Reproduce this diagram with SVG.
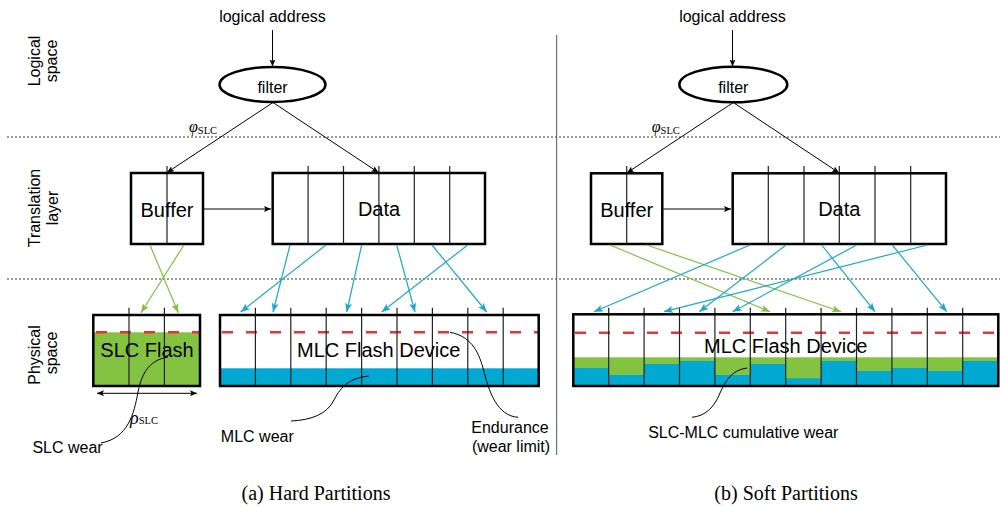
<svg xmlns="http://www.w3.org/2000/svg" width="1000" height="508" viewBox="0 0 1000 508">
<defs>
<style>
.sans{font-family:"Liberation Sans",Arial,sans-serif;fill:#000}
.serif{font-family:"Liberation Serif","Times New Roman",serif;fill:#000}
.box{fill:none;stroke:#000;stroke-width:2.5}
.div{stroke:#222;stroke-width:1.2}
.dot{stroke:#333;stroke-width:1.2;stroke-dasharray:2,2;fill:none}
.red{stroke:#F03030;stroke-width:2.5;stroke-dasharray:11,13;fill:none}
.blk{stroke:#000;stroke-width:1;fill:none}
.teal{stroke:#1AA9CB;stroke-width:1.2;fill:none;marker-end:url(#ta)}
.grn{stroke:#80C342;stroke-width:1.2;fill:none;marker-end:url(#ga)}
.gfill{fill:#84C242}
.bfill{fill:#00A8D2}
</style>
<marker id="ba" markerUnits="userSpaceOnUse" markerWidth="10" markerHeight="8" refX="7" refY="3" orient="auto"><path d="M0,0 L7,3 L0,6 L1.5,3 z" fill="#000"/></marker>
<marker id="bs" markerUnits="userSpaceOnUse" markerWidth="10" markerHeight="8" refX="0" refY="3" orient="auto"><path d="M7,0 L0,3 L7,6 L5.5,3 z" fill="#000"/></marker>
<marker id="ta" markerUnits="userSpaceOnUse" markerWidth="12" markerHeight="10" refX="9" refY="3.5" orient="auto"><path d="M0,0 L9,3.5 L0,7 L2,3.5 z" fill="#1AA9CB"/></marker>
<marker id="ga" markerUnits="userSpaceOnUse" markerWidth="12" markerHeight="10" refX="9" refY="3.5" orient="auto"><path d="M0,0 L9,3.5 L0,7 L2,3.5 z" fill="#80C342"/></marker>
</defs>
<rect width="1000" height="508" fill="#fff"/>

<g id="layer-labels" class="sans" font-size="16" text-anchor="middle">
<text transform="translate(40,61) rotate(-90)">Logical</text>
<text transform="translate(57,61) rotate(-90)">space</text>
<text transform="translate(40,208) rotate(-90)">Translation</text>
<text transform="translate(58,208) rotate(-90)">layer</text>
<text transform="translate(40,355) rotate(-90)">Physical</text>
<text transform="translate(57,353) rotate(-90)">space</text>
</g>

<g id="separators">
<line class="dot" x1="7" y1="137" x2="1000" y2="137"/>
<line class="dot" x1="7" y1="279" x2="1000" y2="279"/>
<line x1="556.7" y1="35" x2="556.7" y2="455" stroke="#555" stroke-width="1"/>
</g>

<!-- ===== Left (a) ===== -->
<g id="a-logical-address"><text class="sans" font-size="16" x="272.5" y="21.5" text-anchor="middle">logical address</text></g>
<g id="a-filter">
<ellipse cx="272.5" cy="84.5" rx="53" ry="17.5" fill="#fff" stroke="#000" stroke-width="2.5"/>
<text class="sans" font-size="16" x="272.5" y="92.5" text-anchor="middle">filter</text>
</g>
<g id="a-buffer">
<rect x="131" y="173" width="72" height="71" fill="#fff"/>
<line class="div" x1="167" y1="166" x2="167" y2="244"/>
<text class="sans" font-size="20" x="167" y="216.5" text-anchor="middle">Buffer</text>
<rect class="box" x="131" y="173" width="72" height="71"/>
</g>
<g id="a-data">
<rect x="272.7" y="173" width="212.3" height="71" fill="#fff"/>
<g class="div">
<line x1="308.1" y1="166" x2="308.1" y2="244"/><line x1="343.5" y1="166" x2="343.5" y2="244"/>
<line x1="378.9" y1="166" x2="378.9" y2="244"/><line x1="414.3" y1="166" x2="414.3" y2="244"/>
<line x1="449.7" y1="166" x2="449.7" y2="244"/>
</g>
<text class="sans" font-size="20" x="379" y="216" text-anchor="middle">Data</text>
<rect class="box" x="272.7" y="173" width="212.3" height="71"/>
</g>
<g id="a-slc-flash">
<rect x="93.3" y="315" width="106.7" height="71" fill="#fff"/>
<rect class="gfill" x="93.3" y="332.3" width="106.7" height="53.7"/>
<line class="red" x1="96" y1="332.3" x2="200" y2="332.3"/>
<g class="div"><line x1="129" y1="307.7" x2="129" y2="386"/><line x1="164.4" y1="307.7" x2="164.4" y2="386"/></g>
<text class="sans" font-size="20" x="147" y="357.3" text-anchor="middle">SLC Flash</text>
<rect class="box" x="93.3" y="315" width="106.7" height="71"/>
</g>
<g id="a-mlc-flash">
<rect x="220" y="315" width="318.7" height="71" fill="#fff"/>
<rect class="bfill" x="220" y="368.3" width="318.7" height="17.7"/>
<line class="red" x1="222" y1="332.3" x2="538.7" y2="332.3"/>
<g class="div">
<line x1="255.4" y1="307.7" x2="255.4" y2="386"/><line x1="290.8" y1="307.7" x2="290.8" y2="386"/>
<line x1="326.2" y1="307.7" x2="326.2" y2="386"/><line x1="361.6" y1="307.7" x2="361.6" y2="386"/>
<line x1="397" y1="307.7" x2="397" y2="386"/><line x1="432.4" y1="307.7" x2="432.4" y2="386"/>
<line x1="467.8" y1="307.7" x2="467.8" y2="386"/><line x1="503.2" y1="307.7" x2="503.2" y2="386"/>
</g>
<text class="sans" font-size="20" x="378.7" y="357" text-anchor="middle">MLC Flash Device</text>
<rect class="box" x="220" y="315" width="318.7" height="71"/>
</g>
<g id="a-annotations">
<line class="blk" x1="97" y1="393.3" x2="197" y2="393.3" marker-start="url(#bs)" marker-end="url(#ba)"/>
<text class="serif" x="130" y="424"><tspan font-style="italic" font-size="18">ρ</tspan><tspan font-size="10.5">SLC</tspan></text>
<path class="blk" d="M168,357 C150,360 142,372 138,392 C134,414 128,438 101,443"/>
<text class="sans" font-size="16" x="67.5" y="453.3" text-anchor="middle">SLC wear</text>
<path class="blk" d="M369,376 C347,378 339,390 334,400 C327,414 312,420 291,421"/>
<text class="sans" font-size="16" x="257.3" y="442" text-anchor="middle">MLC wear</text>
<path class="blk" d="M450,332.3 C470,336 478,350 483,368 C489,392 497,416 518.3,417.3"/>
<text class="sans" font-size="16" x="510" y="432.7" text-anchor="middle">Endurance</text>
<text class="sans" font-size="16" x="511" y="451.7" text-anchor="middle">(wear limit)</text>
<text class="serif" x="189" y="132"><tspan font-style="italic" font-size="16">φ</tspan><tspan font-size="10.5" dy="2">SLC</tspan></text>
</g>
<g id="a-connectors">
<line class="blk" x1="272.5" y1="30" x2="272.5" y2="66.5" marker-end="url(#ba)"/>
<line class="blk" x1="273" y1="102.5" x2="167" y2="172.5" marker-end="url(#ba)"/>
<line class="blk" x1="273" y1="102.5" x2="378.5" y2="172.5" marker-end="url(#ba)"/>
<line class="blk" x1="204" y1="209" x2="271" y2="209" marker-end="url(#ba)"/>
<line class="grn" x1="150" y1="245" x2="178.3" y2="312.7"/>
<line class="grn" x1="184" y1="245" x2="141" y2="312.7"/>
<line class="teal" x1="290" y1="245" x2="273" y2="312"/>
<line class="teal" x1="326" y1="245" x2="240.7" y2="312"/>
<line class="teal" x1="361.7" y1="245" x2="346.7" y2="312"/>
<line class="teal" x1="396.7" y1="245" x2="415" y2="312"/>
<line class="teal" x1="432" y1="245" x2="486.7" y2="312"/>
<line class="teal" x1="467.7" y1="245" x2="381.7" y2="312"/>
</g>

<!-- ===== Right (b) ===== -->
<g id="b-logical-address"><text class="sans" font-size="16" x="732.5" y="21.5" text-anchor="middle">logical address</text></g>
<g id="b-filter">
<ellipse cx="733.3" cy="84.5" rx="54" ry="17.8" fill="#fff" stroke="#000" stroke-width="2.5"/>
<text class="sans" font-size="16" x="733.3" y="92.5" text-anchor="middle">filter</text>
</g>
<g id="b-buffer">
<rect x="591" y="173.3" width="71.3" height="70.7" fill="#fff"/>
<line class="div" x1="626.7" y1="166" x2="626.7" y2="244"/>
<text class="sans" font-size="20" x="626.7" y="216.5" text-anchor="middle">Buffer</text>
<rect class="box" x="591" y="173.3" width="71.3" height="70.7"/>
</g>
<g id="b-data">
<rect x="732.7" y="173.3" width="213.3" height="70.7" fill="#fff"/>
<g class="div">
<line x1="768.3" y1="166" x2="768.3" y2="244"/><line x1="804" y1="166" x2="804" y2="244"/>
<line x1="839.3" y1="166" x2="839.3" y2="244"/><line x1="875" y1="166" x2="875" y2="244"/>
<line x1="910.7" y1="166" x2="910.7" y2="244"/>
</g>
<text class="sans" font-size="20" x="839.3" y="216" text-anchor="middle">Data</text>
<rect class="box" x="732.7" y="173.3" width="213.3" height="70.7"/>
</g>
<g id="b-mlc-flash">
<rect x="573.3" y="314.3" width="425" height="71.7" fill="#fff"/>
<rect class="gfill" x="573.3" y="357.3" width="425" height="28.7"/>
<g class="bfill">
<rect x="573.3" y="368" width="35.4" height="18"/>
<rect x="608.7" y="375" width="35.4" height="11"/>
<rect x="644.1" y="364" width="35.4" height="22"/>
<rect x="679.5" y="361" width="35.4" height="25"/>
<rect x="714.9" y="375" width="35.4" height="11"/>
<rect x="750.3" y="364" width="35.4" height="22"/>
<rect x="785.7" y="378.3" width="35.4" height="7.7"/>
<rect x="821.1" y="361" width="35.4" height="25"/>
<rect x="856.5" y="371" width="35.4" height="15"/>
<rect x="891.9" y="368" width="35.4" height="18"/>
<rect x="927.3" y="371" width="35.4" height="15"/>
<rect x="962.7" y="361" width="35.6" height="25"/>
</g>
<line class="red" x1="575" y1="332.7" x2="998.3" y2="332.7"/>
<g class="div">
<line x1="608.7" y1="307.7" x2="608.7" y2="386"/><line x1="644.1" y1="307.7" x2="644.1" y2="386"/>
<line x1="679.5" y1="307.7" x2="679.5" y2="386"/><line x1="714.9" y1="307.7" x2="714.9" y2="386"/>
<line x1="750.3" y1="307.7" x2="750.3" y2="386"/><line x1="785.7" y1="307.7" x2="785.7" y2="386"/>
<line x1="821.1" y1="307.7" x2="821.1" y2="386"/><line x1="856.5" y1="307.7" x2="856.5" y2="386"/>
<line x1="891.9" y1="307.7" x2="891.9" y2="386"/><line x1="927.3" y1="307.7" x2="927.3" y2="386"/>
<line x1="962.7" y1="307.7" x2="962.7" y2="386"/>
</g>
<text class="sans" font-size="20" x="785.7" y="353.3" text-anchor="middle">MLC Flash Device</text>
<rect class="box" x="573.3" y="314.3" width="425" height="71.7"/>
</g>
<g id="b-annotations">
<text class="serif" x="651.7" y="132"><tspan font-style="italic" font-size="16">φ</tspan><tspan font-size="10.5" dy="2">SLC</tspan></text>
<path class="blk" d="M747,368 C732,370 726,380 720,393 C714,408 705,416 692,417.3"/>
<text class="sans" font-size="16" x="743.3" y="438.3" text-anchor="middle">SLC-MLC cumulative wear</text>
</g>
<g id="b-connectors">
<line class="blk" x1="732.5" y1="30" x2="732.5" y2="66.5" marker-end="url(#ba)"/>
<line class="blk" x1="733.3" y1="102.5" x2="627" y2="172.8" marker-end="url(#ba)"/>
<line class="blk" x1="733.3" y1="102.5" x2="839" y2="172.8" marker-end="url(#ba)"/>
<line class="blk" x1="663.3" y1="209" x2="731" y2="209" marker-end="url(#ba)"/>
<line class="grn" x1="610" y1="245" x2="770" y2="311.7"/>
<line class="grn" x1="646.7" y1="245" x2="841" y2="311.7"/>
<line class="teal" x1="750" y1="245" x2="594" y2="311.7"/>
<line class="teal" x1="786" y1="245" x2="699.3" y2="311.7"/>
<line class="teal" x1="821.7" y1="245" x2="875" y2="311.7"/>
<line class="teal" x1="856.7" y1="245" x2="732.7" y2="311.7"/>
<line class="teal" x1="892.3" y1="245" x2="946.7" y2="311.7"/>
<line class="teal" x1="927.3" y1="245" x2="664" y2="311.7"/>
</g>

<g id="captions" class="serif" font-size="20" text-anchor="middle">
<text x="316" y="500">(a) Hard Partitions</text>
<text x="786" y="500">(b) Soft Partitions</text>
</g>
</svg>
